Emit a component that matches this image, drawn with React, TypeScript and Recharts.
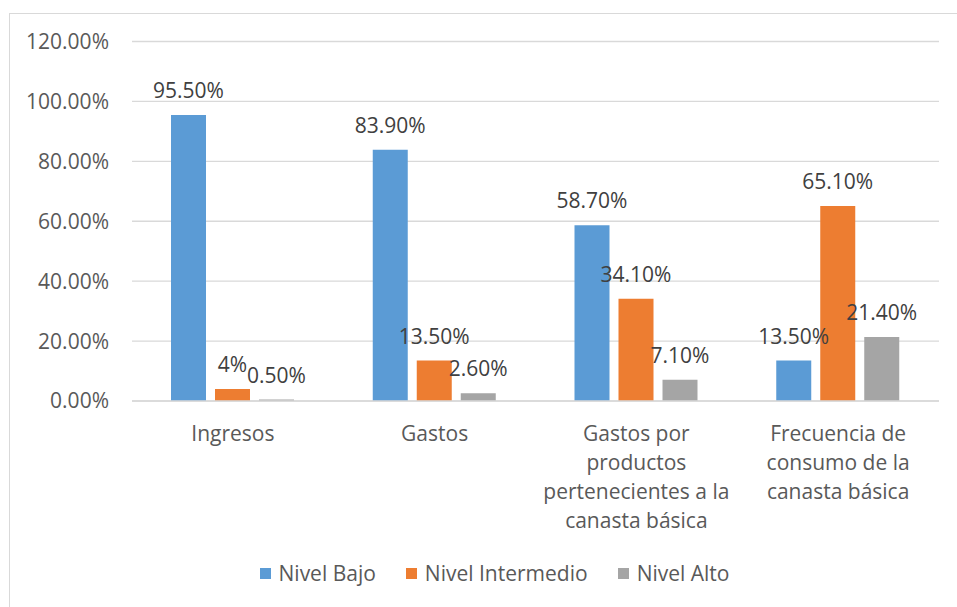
import { BarChart, Bar, XAxis, YAxis, CartesianGrid, Legend, LabelList } from "recharts";

const categories = [
  "Ingresos",
  "Gastos",
  "Gastos por\nproductos\npertenecientes a la\ncanasta básica",
  "Frecuencia de\nconsumo de la\ncanasta básica",
];
const nivelBajo = [95.5, 83.9, 58.7, 13.5];
const nivelIntermedio = [4, 13.5, 34.1, 65.1];
const nivelAlto = [0.5, 2.6, 7.1, 21.4];
const yTicks = [0, 20, 40, 60, 80, 100, 120];

const SERIES = [
  { key: "bajo", name: "Nivel Bajo", color: "#5B9BD5" },
  { key: "intermedio", name: "Nivel Intermedio", color: "#ED7D31" },
  { key: "alto", name: "Nivel Alto", color: "#A5A5A5" },
];

const data = categories.map((name, i) => ({
  name,
  bajo: nivelBajo[i],
  intermedio: nivelIntermedio[i],
  alto: nivelAlto[i],
}));

const FONT = "'Open Sans', sans-serif";
const FS = 21;

const fmtLabel = (v: any) => {
  const n = Number(v);
  return Number.isInteger(n) ? `${n}%` : `${n.toFixed(2)}%`;
};

const CategoryTick = (props: any) => {
  const { x, y, payload } = props;
  const lines = String(payload.value).split("\n");
  return (
    <text x={x} y={y} textAnchor="middle" fill="#595959" fontSize={FS} fontFamily={FONT}>
      {lines.map((line, i) => (
        <tspan key={i} x={x} y={y + 40 + i * 29}>
          {line}
        </tspan>
      ))}
    </text>
  );
};

const LegendContent = () => (
  <div
    style={{
      display: "flex",
      justifyContent: "center",
      paddingLeft: 32,
      fontFamily: FONT,
      fontSize: FS,
      color: "#595959",
    }}
  >
    {SERIES.map((s) => (
      <div key={s.key} style={{ display: "flex", alignItems: "center", margin: "0 15px" }}>
        <span style={{ width: 11, height: 11, background: s.color, display: "inline-block", marginRight: 8 }} />
        <span>{s.name}</span>
      </div>
    ))}
  </div>
);

export default function App() {
  return (
    <div style={{ position: "fixed", left: 0, top: 0, width: 957, height: 607, overflow: "hidden", background: "#fff" }}>
      <div
        style={{
          position: "absolute",
          left: 9,
          top: 13,
          width: 980,
          height: 640,
          border: "1px solid #d9d9d9",
          boxSizing: "border-box",
        }}
      />
      <div style={{ position: "absolute", left: 0, top: 0 }}>
        <BarChart
          width={957}
          height={607}
          data={data}
          margin={{ top: 41.5, right: 18, bottom: 176, left: 0 }}
          barCategoryGap={39}
          barGap={9}
        >
          <CartesianGrid vertical={false} stroke="#d9d9d9" strokeWidth={1.3} />
          <XAxis
            dataKey="name"
            height={30}
            axisLine={{ stroke: "#d9d9d9", strokeWidth: 1.3 }}
            tickLine={false}
            tickSize={0}
            tickMargin={0}
            interval={0}
            tick={<CategoryTick />}
          />
          <YAxis
            width={132}
            domain={[0, 120]}
            ticks={yTicks}
            axisLine={false}
            tickLine={false}
            tickSize={0}
            tickMargin={23}
            tickFormatter={(v: number) => `${v.toFixed(2)}%`}
            tick={{ fill: "#595959", fontSize: FS, fontFamily: FONT }}
          />
          {SERIES.map((s) => (
            <Bar key={s.key} dataKey={s.key} name={s.name} fill={s.color} isAnimationActive={false}>
              <LabelList
                dataKey={s.key}
                position="top"
                offset={17}
                formatter={fmtLabel}
                fill="#404040"
                fontSize={FS}
                fontFamily={FONT}
              />
            </Bar>
          ))}
          <Legend
            layout="horizontal"
            verticalAlign="middle"
            align="center"
            content={<LegendContent />}
            wrapperStyle={{ top: 559, left: 0, width: 957 }}
          />
        </BarChart>
      </div>
    </div>
  );
}
